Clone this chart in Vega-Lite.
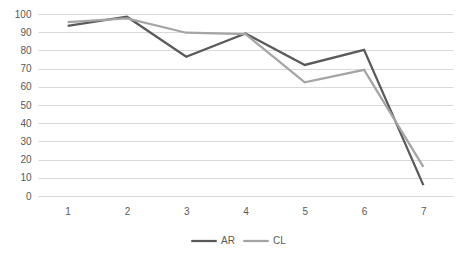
{
  "$schema": "https://vega.github.io/schema/vega-lite/v6.json",
  "width": 415,
  "height": 182,
  "autosize": {"type": "none"},
  "padding": {"left": 38, "top": 14, "right": 15, "bottom": 62},
  "background": "white",
  "config": {
    "view": {"stroke": null},
    "font": "Liberation Sans",
    "axis": {"labelFont": "Liberation Sans", "labelFontSize": 10, "labelColor": "#595959"},
    "legend": {"labelFont": "Liberation Sans", "labelFontSize": 10, "labelColor": "#595959"}
  },
  "data": {
    "values": [
      {"x": "1", "series": "AR", "v": 93.5},
      {"x": "2", "series": "AR", "v": 98.5},
      {"x": "3", "series": "AR", "v": 76.5},
      {"x": "4", "series": "AR", "v": 89.3},
      {"x": "5", "series": "AR", "v": 72},
      {"x": "6", "series": "AR", "v": 80.3},
      {"x": "7", "series": "AR", "v": 6},
      {"x": "1", "series": "CL", "v": 95.6},
      {"x": "2", "series": "CL", "v": 97.6},
      {"x": "3", "series": "CL", "v": 89.7},
      {"x": "4", "series": "CL", "v": 89},
      {"x": "5", "series": "CL", "v": 62.5},
      {"x": "6", "series": "CL", "v": 69.3},
      {"x": "7", "series": "CL", "v": 16}
    ]
  },
  "mark": {"type": "line", "strokeWidth": 2.25, "strokeJoin": "miter"},
  "encoding": {
    "x": {
      "field": "x",
      "type": "ordinal",
      "scale": {"padding": 0.5},
      "axis": {
        "title": null,
        "labelAngle": 0,
        "ticks": false,
        "domain": true,
        "domainColor": "#d9d9d9",
        "domainWidth": 1,
        "grid": false,
        "labelPadding": 10
      }
    },
    "y": {
      "field": "v",
      "type": "quantitative",
      "scale": {"domain": [0, 100], "nice": false},
      "axis": {
        "title": null,
        "values": [0, 10, 20, 30, 40, 50, 60, 70, 80, 90, 100],
        "ticks": false,
        "domain": false,
        "gridColor": "#d9d9d9",
        "gridWidth": 1,
        "labelPadding": 7
      }
    },
    "color": {
      "field": "series",
      "type": "nominal",
      "scale": {"domain": ["AR", "CL"], "range": ["#595959", "#a5a5a5"]},
      "legend": {
        "title": null,
        "orient": "none",
        "legendX": 152,
        "legendY": 213,
        "direction": "horizontal",
        "symbolType": "stroke",
        "symbolSize": 650,
        "symbolStrokeWidth": 2.25,
        "columnPadding": 3,
        "labelOffset": 3
      }
    }
  }
}
